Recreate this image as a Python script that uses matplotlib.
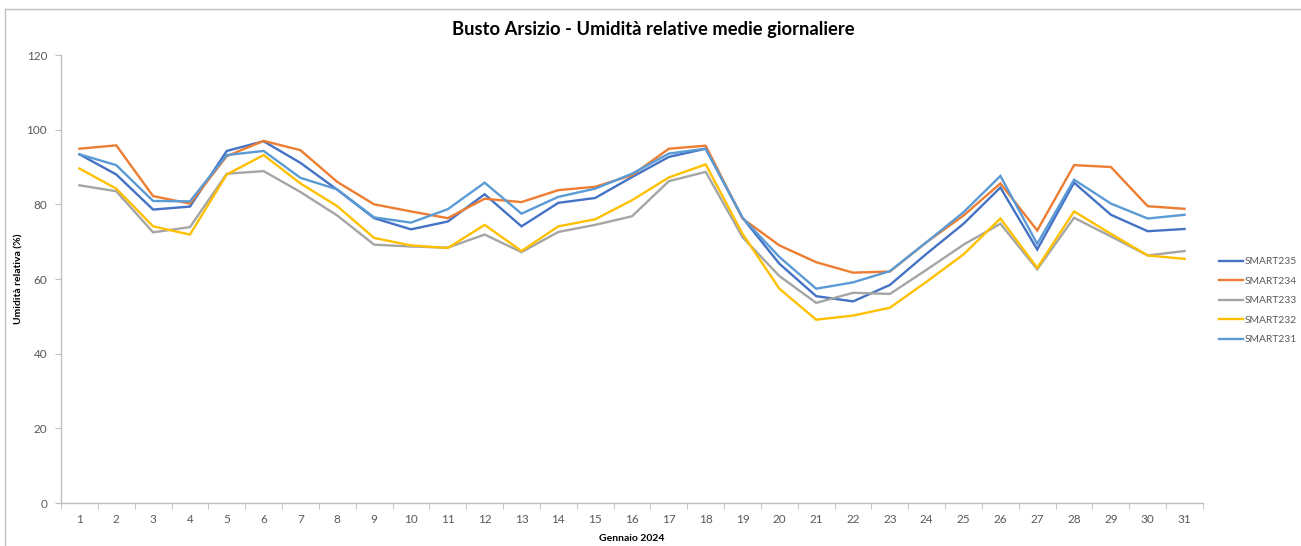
import matplotlib
matplotlib.use("Agg")
import matplotlib.pyplot as plt
from matplotlib.lines import Line2D

days = list(range(1, 32))
day_labels = [str(d) for d in days]

smart235 = [93.4, 88.0, 78.6, 79.4, 94.3, 96.9, 91.1, 83.9, 76.3, 73.3, 75.4, 82.7, 74.1, 80.4, 81.7, 87.3,
            92.7, 94.9, 76.4, 64.1, 55.4, 54.0, 58.4, 66.8, 74.8, 84.5, 67.9, 85.8, 77.2, 72.8, 73.4]
smart234 = [94.9, 95.8, 82.2, 80.2, 92.9, 97.0, 94.5, 86.0, 80.0, 78.1, 76.3, 81.5, 80.6, 83.8, 84.7, 87.8,
            94.9, 95.7, 76.2, 69.0, 64.5, 61.7, 62.0, 69.9, 77.0, 85.6, 73.0, 90.5, 90.0, 79.5, 78.8]
smart233 = [85.1, 83.5, 72.5, 73.9, 88.2, 88.9, 83.3, 77.0, 69.2, 68.7, 68.4, 71.9, 67.2, 72.6, 74.5, 76.8,
            86.2, 88.7, 71.2, 60.8, 53.6, 56.3, 56.0, 62.5, 69.2, 74.8, 62.6, 76.4, 71.4, 66.3, 67.5]
smart232 = [89.6, 84.2, 74.1, 71.9, 88.0, 93.2, 85.6, 79.5, 71.0, 69.0, 68.3, 74.5, 67.5, 74.1, 76.0, 81.1,
            87.2, 90.7, 72.1, 57.4, 49.1, 50.2, 52.3, 59.3, 66.6, 76.2, 63.0, 78.1, 72.1, 66.3, 65.4]
smart231 = [93.4, 90.5, 80.9, 80.8, 93.2, 94.3, 87.1, 84.0, 76.5, 75.1, 78.7, 85.8, 77.5, 82.0, 84.2, 88.2,
            93.6, 94.9, 76.4, 65.9, 57.4, 59.1, 62.1, 69.9, 77.9, 87.6, 69.4, 86.6, 80.2, 76.2, 77.2]

series_names = ["SMART235", "SMART234", "SMART233", "SMART232", "SMART231"]
series_values = [smart235, smart234, smart233, smart232, smart231]
colors = ["#4472C4", "#ED7D31", "#A5A5A5", "#FFC000", "#5B9BD5"]
y_ticks = [0, 20, 40, 60, 80, 100, 120]

plt.rcParams['font.family'] = ['Lato', 'DejaVu Sans']

W, H = 1301, 546
fig = plt.figure(figsize=(W / 100, H / 100), dpi=100)
ax = fig.add_axes([61 / W, 1 - 503 / H, (1203 - 61) / W, (503 - 55) / H])

for name, vals, c in zip(series_names, series_values, colors):
    ax.plot(days, vals, color=c, lw=1.7, label=name, solid_joinstyle='miter')

ax.set_xlim(0.5, 31.5)
ax.set_ylim(0, 120)
ax.set_yticks(y_ticks)
ax.set_yticklabels([str(v) for v in y_ticks])
ax.set_xticks(days)
ax.set_xticklabels(day_labels)
ax.set_xticks([d + 0.5 for d in range(0, 32)], minor=True)

for s in ["top", "right"]:
    ax.spines[s].set_visible(False)
for s in ["left", "bottom"]:
    ax.spines[s].set_color("#BFBFBF")
    ax.spines[s].set_linewidth(1.0)

ax.tick_params(axis='x', which='major', length=0, pad=8, labelsize=8.5, labelcolor="#595959")
ax.tick_params(axis='x', which='minor', length=4, color="#BFBFBF", direction='out')
ax.tick_params(axis='y', which='major', length=4, color="#BFBFBF", pad=6, labelsize=8.5, labelcolor="#595959")

ax.set_ylabel("Umidità relativa (%)", fontsize=7.5, fontweight='bold', color="#000000", labelpad=18)
ax.yaxis.set_label_coords(-0.033, 0.5)
ax.set_xlabel("Gennaio 2024", fontsize=7.5, fontweight='bold', color="#000000")
ax.xaxis.set_label_coords(0.50, -0.07)

fig.text(653 / W, 1 - 30 / H, "Busto Arsizio - Umidità relative medie giornaliere",
         ha='center', va='center', fontsize=13.2, fontweight='bold', color="#000000")

leg = ax.legend(loc='upper left', bbox_to_anchor=(1212 / W, 1 - 250 / H), bbox_transform=fig.transFigure,
                frameon=False, fontsize=7.4, handlelength=2.3, handletextpad=0.15, labelspacing=1.0,
                borderpad=0.2, labelcolor="#595959")

# chart-area border
fig.add_artist(Line2D([5 / W, 1.0], [1 - 9 / H, 1 - 9 / H], transform=fig.transFigure, color="#BFBFBF", lw=1))
fig.add_artist(Line2D([5 / W, 5 / W], [0, 1 - 9 / H], transform=fig.transFigure, color="#BFBFBF", lw=1))

fig.savefig("out.png", dpi=100)
